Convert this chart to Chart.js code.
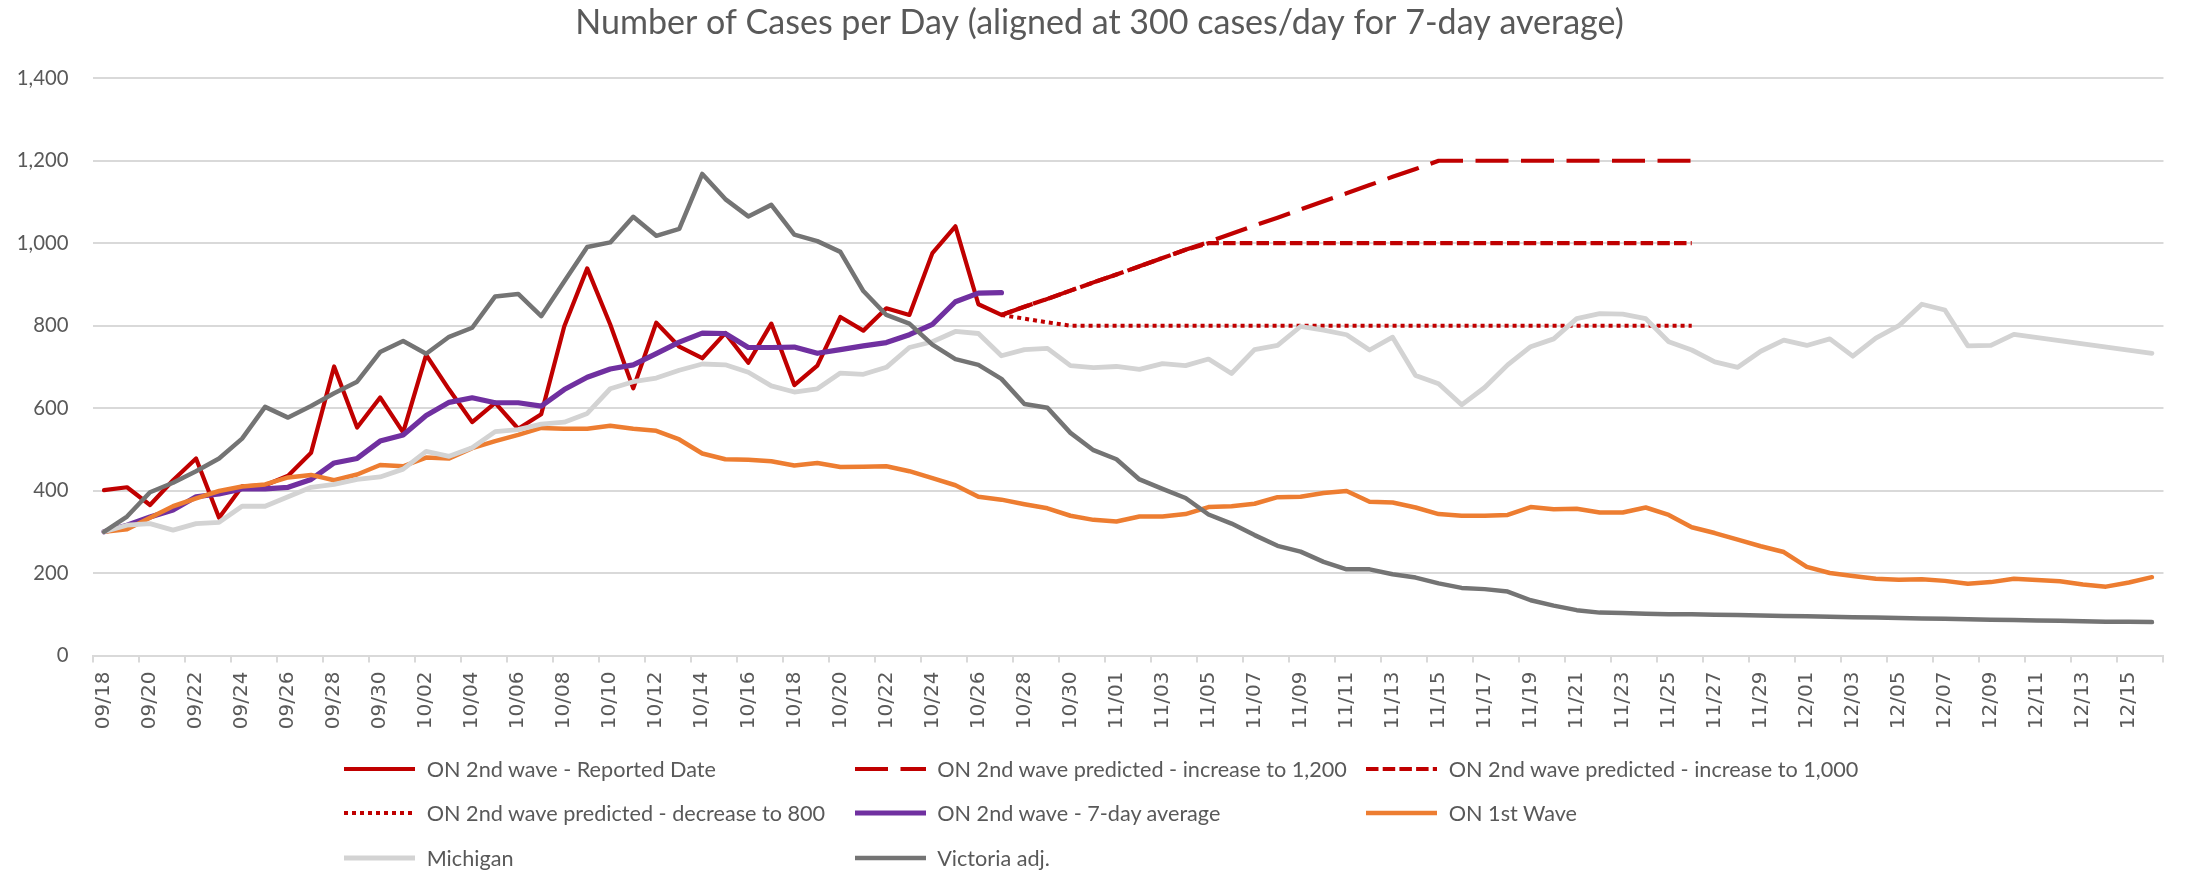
<!DOCTYPE html>
<html>
<head>
<meta charset="utf-8">
<script src="https://cdn.jsdelivr.net/npm/chart.js@4.4.1/dist/chart.umd.min.js"></script>
<style>
html,body{margin:0;padding:0;background:#ffffff;}
#wrap{position:relative;width:2185px;height:870px;overflow:hidden;background:#ffffff;}
#c{position:absolute;left:0;top:0;}
#legend{position:absolute;left:0;top:0;width:2185px;height:870px;pointer-events:none;}
.item{position:absolute;height:30px;display:flex;align-items:center;white-space:nowrap;color:#595959;font-family:Lato,sans-serif;}
.item svg{flex:none;display:block;}
</style>
</head>
<body>
<div id="wrap"><canvas id="c" width="2185" height="870"></canvas><div id="legend"></div></div>
<script>
// ---------- categories (tick labels) ----------
const categories = [
 '09/18','09/19','09/20','09/21','09/22','09/23','09/24','09/25','09/26','09/27','09/28','09/29','09/30',
 '10/01','10/02','10/03','10/04','10/05','10/06','10/07','10/08','10/09','10/10','10/11','10/12','10/13','10/14','10/15','10/16','10/17','10/18','10/19','10/20','10/21','10/22','10/23','10/24','10/25','10/26','10/27','10/28','10/29','10/30','10/31',
 '11/01','11/02','11/03','11/04','11/05','11/06','11/07','11/08','11/09','11/10','11/11','11/12','11/13','11/14','11/15','11/16','11/17','11/18','11/19','11/20','11/21','11/22','11/23','11/24','11/25','11/26','11/27','11/28','11/29','11/30',
 '12/01','12/02','12/03','12/04','12/05','12/06','12/07','12/08','12/09','12/10','12/11','12/12','12/13','12/14','12/15','12/16'
];

// ---------- series names ----------
const seriesNames = [
 'ON 2nd wave - Reported Date',
 'ON 2nd wave predicted - increase to 1,200',
 'ON 2nd wave predicted - increase to 1,000',
 'ON 2nd wave predicted - decrease to 800',
 'ON 2nd wave - 7-day average',
 'ON 1st Wave',
 'Michigan',
 'Victoria adj.'
];

// ---------- values (start at 09/18 unless noted) ----------
const reported = [401,408,365,425,478,334,410,413,436,492,701,553,626,541,729,645,566,613,550,585,
                  798,939,803,648,807,749,721,782,710,805,656,703,821,788,842,826,976,1041,852,826];

// predictions start at 10/27
const predictionStart = '10/27';
const predicted1200 = [826,846,865,885,905,924,944,964,984,1003,1023,1043,1062,1082,1102,1121,1141,1161,1180,1200,
                       1200,1200,1200,1200,1200,1200,1200,1200,1200,1200,1200];
const predicted1000 = [826,846,865,885,905,924,944,964,984,1000,1000,1000,1000,1000,1000,1000,1000,1000,1000,1000,
                       1000,1000,1000,1000,1000,1000,1000,1000,1000,1000,1000];
const predicted800  = [826,817,808,800,800,800,800,800,800,800,800,800,800,800,800,800,800,800,800,800,
                       800,800,800,800,800,800,800,800,800,800,800];

const sevenDayAvg = [300,316,336,353,385,392,404,404,408,427,467,478,520,535,582,614,625,613,613,605,
                     645,675,695,705,732,760,782,781,747,747,748,733,742,751,759,778,803,858,879,880];

const firstWave = [300,306,334,362,381,399,410,415,432,438,425,439,462,459,480,478,503,520,535,552,
                   550,550,557,550,545,524,490,476,475,471,461,467,457,458,459,447,430,413,385,378,
                   367,357,339,329,325,337,337,343,360,362,368,384,385,394,399,373,371,359,343,339,
                   339,341,360,355,356,347,347,359,341,311,297,281,265,251,215,200,193,186,184,185,
                   181,174,178,186,183,180,172,167,177,190];

const michigan = [300,316,320,304,320,323,362,362,385,408,415,427,433,452,495,483,504,543,548,561,
                  566,587,647,664,673,692,707,705,687,654,639,647,685,682,699,747,761,786,781,727,
                  742,745,703,698,701,694,708,703,719,684,742,752,798,789,778,741,772,679,659,608,
                  650,705,749,768,817,829,828,817,761,741,712,699,738,765,752,768,726,770,800,852,
                  838,751,752,779,null,null,null,null,null,733];

const victoria = [300,337,396,419,447,478,526,603,577,605,636,664,736,763,732,773,795,871,877,823,
                  907,991,1002,1064,1018,1035,1168,1107,1065,1093,1021,1005,979,884,826,805,754,719,705,671,
                  610,601,540,498,476,427,404,382,342,320,292,266,252,227,209,209,197,189,175,164,
                  161,155,134,121,110,104,103,101,100,100,99,98,97,96,95,94,93,92,91,90,
                  89,88,87,86,85,84,83,82,82,81];

// y-axis ticks
const yTicks = [0,200,400,600,800,1000,1200,1400];

// ---------- helpers ----------
function alignTo(values, startLabel){
  const start = categories.indexOf(startLabel);
  const out = new Array(categories.length).fill(null);
  values.forEach((v,i)=>{ out[start+i] = v; });
  return out;
}
function fitSize(text, family, target){
  const ctx = document.createElement('canvas').getContext('2d');
  ctx.font = '100px ' + family;
  return 100 * target / ctx.measureText(text).width;
}

const seriesData = [
  alignTo(reported,'09/18'),
  alignTo(predicted1200,predictionStart),
  alignTo(predicted1000,predictionStart),
  alignTo(predicted800,predictionStart),
  alignTo(sevenDayAvg,'09/18'),
  alignTo(firstWave,'09/18'),
  alignTo(michigan,'09/18'),
  alignTo(victoria,'09/18')
];

const styles = [
  {color:'#C00000', width:4.2, dash:[], cap:'round'},
  {color:'#C00000', width:4.2, dash:[33,12.5], cap:'butt'},
  {color:'#C00000', width:4.2, dash:[12.5,4.2], cap:'butt'},
  {color:'#C00000', width:4.0, dash:[4,4], cap:'butt'},
  {color:'#7030A0', width:5.2, dash:[], cap:'round'},
  {color:'#ED7D31', width:4.5, dash:[], cap:'round'},
  {color:'#D3D3D3', width:4.8, dash:[], cap:'round'},
  {color:'#747474', width:4.5, dash:[], cap:'round'}
];

const FONT = 'Lato, sans-serif';
const titleText = 'Number of Cases per Day (aligned at 300 cases/day for 7-day average)';
const titleSize = fitSize(titleText, FONT, 1049);
const yTickSize = fitSize('1,400', FONT, 51.7);
const legendSize = fitSize(seriesNames[0], FONT, 290);
const titlePadTop = 35 - 0.35*titleSize - 0.6*titleSize;
const titlePadBottom = 78.3 - titlePadTop - 1.2*titleSize;

const datasets = seriesData.map((d,i)=>({
  label: seriesNames[i],
  data: d,
  borderColor: styles[i].color,
  backgroundColor: styles[i].color,
  borderWidth: styles[i].width,
  borderDash: styles[i].dash,
  borderCapStyle: styles[i].cap,
  borderJoinStyle: 'round',
  pointRadius: 0,
  pointHoverRadius: 0,
  fill: false,
  tension: 0,
  spanGaps: i === 6,
  order: seriesNames.length - 1 - i
}));

const tickMarkColor = (ctx) => (ctx.type !== 'tick' || ctx.index % 2 === 0) ? '#D9D9D9' : 'rgba(0,0,0,0)';

new Chart(document.getElementById('c'), {
  type: 'line',
  data: { labels: categories, datasets },
  options: {
    responsive: false,
    devicePixelRatio: 1,
    animation: false,
    events: [],
    layout: { padding: { left: 14, right: 0, top: 0, bottom: 0 } },
    plugins: {
      legend: { display: false },
      tooltip: { enabled: false },
      title: {
        display: true,
        text: titleText,
        color: '#595959',
        font: { family: FONT, size: titleSize, weight: 'normal', lineHeight: 1.2 },
        padding: { top: titlePadTop, bottom: titlePadBottom }
      }
    },
    scales: {
      x: {
        type: 'category',
        offset: true,
        grid: {
          offset: true,
          drawOnChartArea: false,
          drawTicks: true,
          tickLength: 7,
          color: tickMarkColor,
          tickColor: tickMarkColor,
          lineWidth: 2,
          tickWidth: 2
        },
        border: { display: true, color: '#D9D9D9', width: 2 },
        ticks: {
          autoSkip: false,
          minRotation: 90,
          maxRotation: 90,
          padding: 9,
          color: '#595959',
          font: { family: 'DejaVu Sans', size: 20 },
          callback: (v, i) => (i % 2 === 0 ? categories[i] : '')
        },
        afterFit: (s) => { s.height = 214.5; }
      },
      y: {
        position: 'left',
        min: yTicks[0],
        max: yTicks[yTicks.length-1],
        grid: { color: '#D9D9D9', lineWidth: 2, drawTicks: false },
        border: { display: false },
        ticks: {
          stepSize: yTicks[1]-yTicks[0],
          padding: 24,
          color: '#595959',
          font: { family: FONT, size: yTickSize },
          callback: (v) => Number(v).toLocaleString('en-US')
        },
        afterFit: (s) => { s.width = 78.5; }
      },
      yRightSpacer: {
        type: 'linear',
        position: 'right',
        display: true,
        grid: { display: false, drawTicks: false },
        border: { display: false },
        ticks: { display: false },
        afterFit: (s) => { s.width = 8; }
      }
    }
  }
});

// ---------- HTML legend (3 columns, 3 rows) ----------
const colLeft = [344, 854.5, 1366];
const rowCenter = [769, 813, 857.5];
const legendEl = document.getElementById('legend');
seriesNames.forEach((name, i) => {
  const st = styles[i];
  const col = i % 3, row = Math.floor(i / 3);
  const item = document.createElement('div');
  item.className = 'item';
  item.style.left = colLeft[col] + 'px';
  item.style.top = (rowCenter[row] - 15) + 'px';
  item.style.fontSize = legendSize + 'px';
  const svgNS = 'http://www.w3.org/2000/svg';
  const svg = document.createElementNS(svgNS, 'svg');
  svg.setAttribute('width', '71'); svg.setAttribute('height', '12');
  const ln = document.createElementNS(svgNS, 'line');
  ln.setAttribute('x1','0'); ln.setAttribute('x2','71');
  ln.setAttribute('y1','6'); ln.setAttribute('y2','6');
  ln.setAttribute('stroke', st.color);
  ln.setAttribute('stroke-width', st.width);
  if (st.dash.length) ln.setAttribute('stroke-dasharray', st.dash.join(' '));
  svg.appendChild(ln);
  const txt = document.createElement('span');
  txt.textContent = name;
  txt.style.marginLeft = '11.7px';
  txt.style.lineHeight = '30px';
  item.appendChild(svg);
  item.appendChild(txt);
  legendEl.appendChild(item);
});
</script>
</body>
</html>
